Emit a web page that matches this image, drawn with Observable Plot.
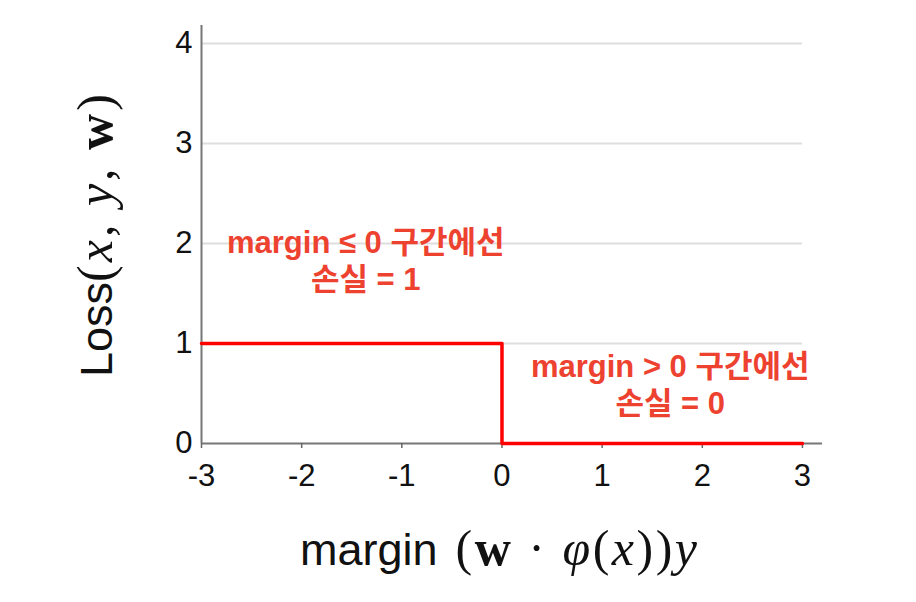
<!DOCTYPE html>
<html>
<head>
<meta charset="utf-8">
<script src="https://cdn.jsdelivr.net/npm/d3@7"></script>
<script src="https://cdn.jsdelivr.net/npm/@observablehq/plot@0.6"></script>
<style>
  html, body { margin: 0; padding: 0; background: #fff; }
</style>
</head>
<body>
<div id="chart"></div>
<script>
// Data
const marginX = [-3, 0, 3];
const lossY = [1, 0, 0];
const xTicks = [-3, -2, -1, 0, 1, 2, 3];
const yTicks = [0, 1, 2, 3, 4];
const gridY = [1, 2, 3, 4];
const noteText = ["margin ≤ 0 구간에선\n손실 = 1", "margin > 0 구간에선\n손실 = 0"];
const noteX = [-1.36, 1.68];
const noteY = [1.84, 0.6];

const lossData = marginX.map((x, i) => ({x, y: lossY[i]}));
const notes = noteText.map((t, i) => ({t, x: noteX[i], y: noteY[i]}));

const sans = "'Liberation Sans', 'Noto Sans CJK KR', sans-serif";
const red = "#ee4230";

const plot = Plot.plot({
  width: 916,
  height: 602,
  marginLeft: 201,
  marginRight: 94,
  marginTop: 25,
  marginBottom: 159,
  style: {fontFamily: sans, fontSize: "31px", background: "#fff", color: "#111"},
  x: {domain: [-3, 3.2]},
  y: {domain: [0, 4.18]},
  marks: [
    Plot.ruleY(gridY, {x1: -3, x2: 3, stroke: "#dedede", strokeWidth: 2}),
    Plot.ruleX([-3], {stroke: "#777", strokeWidth: 2}),
    Plot.ruleY([0], {stroke: "#777", strokeWidth: 2}),
    Plot.axisX({ticks: xTicks, tickSize: 5, tickPadding: 15, fontSize: 31, tickFormat: d => String(d), label: null, stroke: "#666", strokeWidth: 1.5}),
    Plot.axisY({ticks: yTicks, tickSize: 0, tickPadding: 9, fontSize: 31, tickFormat: d => String(d), label: null}),
    Plot.line(lossData, {x: "x", y: "y", curve: "step-after", stroke: "#ff0000", strokeWidth: 3.5}),
    Plot.text(notes, {x: "x", y: "y", text: "t", fill: red, fontSize: 31, fontWeight: "bold", lineHeight: 1.2, fontFamily: sans})
  ]
});

const svg = d3.select(plot);
const serif = "'Liberation Serif', 'DejaVu Serif', serif";

// y axis label
const yl = svg.append("text")
  .attr("transform", "translate(112,377) rotate(-90)")
  .attr("text-anchor", "start")
  .attr("font-size", 45)
  .attr("fill", "#111")
  .attr("font-family", sans);
yl.append("tspan").text("Loss");
const ym = yl.append("tspan").attr("font-family", serif).attr("font-size", 50).attr("letter-spacing", 3);
ym.append("tspan").text("(");
ym.append("tspan").attr("font-style", "italic").text("x");
ym.append("tspan").text(", ");
ym.append("tspan").attr("font-style", "italic").text("y");
ym.append("tspan").text(", ");
ym.append("tspan").attr("font-weight", "bold").text("w");
ym.append("tspan").text(")");

// x axis label
const xl = svg.append("text")
  .attr("x", 300).attr("y", 565)
  .attr("text-anchor", "start")
  .attr("font-size", 45)
  .attr("fill", "#111")
  .attr("font-family", sans);
xl.append("tspan").text("margin");
const xm = xl.append("tspan").attr("dx", 18).attr("font-family", serif).attr("font-size", 50).attr("letter-spacing", 2.5);
xm.append("tspan").text("(");
xm.append("tspan").attr("font-weight", "bold").text("w");
xm.append("tspan").text(" · ");
xm.append("tspan").attr("font-style", "italic").text("φ");
xm.append("tspan").text("(");
xm.append("tspan").attr("font-style", "italic").text("x");
xm.append("tspan").text("))");
xm.append("tspan").attr("font-style", "italic").text("y");

document.getElementById("chart").appendChild(plot);
</script>
</body>
</html>
